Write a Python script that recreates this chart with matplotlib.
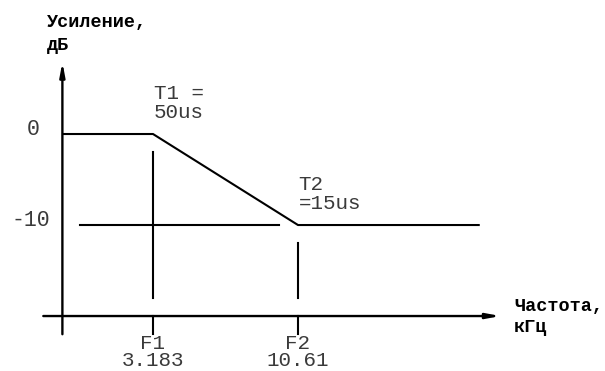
import matplotlib.pyplot as plt

# chart data (schematic pre-emphasis curve)
freq_pts = [1.5, 3.183, 10.61, 48.0]     # кГц
gain_pts = [0, 0, -10, -10]              # дБ
corner_freqs = [3.183, 10.61]
corner_names = ['F1', 'F2']
corner_values = ['3.183', '10.61']
tau_labels = ['T1 =\n50us', 'T2\n=15us']
ytick_vals = [0, -10]
ytick_labels = ['0', '-10']
ref_line_f = [1.74, 9.1]                 # -10 dB guide line
axis_y = -20                             # where the frequency axis sits
axis_f = 1.5                             # where the gain axis sits

mono = ['Liberation Mono', 'DejaVu Sans Mono']
txt = '#3a3a3a'

fig = plt.figure(figsize=(6.05, 3.71), dpi=100)
ax = fig.add_axes([0, 0, 1, 1])
ax.set_xscale('log')
ax.set_xlim(0.8935, 135.8)
ax.set_ylim(-26.04, 14.725)
ax.axis('off')

# axes with arrows
arrow = dict(arrowstyle='-|>,head_length=0.8,head_width=0.15',
             color='black', lw=1.7, shrinkA=0, shrinkB=0)
ax.annotate('', xy=(57, axis_y), xytext=(1.28, axis_y), arrowprops=arrow)
ax.annotate('', xy=(axis_f, 7.9), xytext=(axis_f, -22), arrowprops=arrow)

# response curve
ax.plot(freq_pts, gain_pts, color='black', lw=1.5, solid_capstyle='butt')

# -10 dB guide
ax.plot(ref_line_f, [ytick_vals[1]] * 2, color='black', lw=1.5)

# corner frequency markers
ax.plot([corner_freqs[0]] * 2, [-2, -18], color='black', lw=1.5)
ax.plot([corner_freqs[1]] * 2, [-12, -18], color='black', lw=1.5)
for f in corner_freqs:
    ax.plot([f, f], [axis_y, -22], color='black', lw=1.5)

# y tick labels
for v, lab, xc in zip(ytick_vals, ytick_labels, [33 / 605, 31 / 605]):
    ax.text(xc, v + 0.5, lab, transform=ax.get_yaxis_transform(),
            ha='center', va='center', fontsize=15.5, family=mono, color=txt)

# corner labels
for f, name, val, tau, ty in zip(corner_freqs, corner_names, corner_values,
                                 tau_labels, [3.4, -6.6]):
    ax.text(f, -23.95, name + '\n' + val, ha='center', va='center',
            fontsize=15, family=mono, color=txt, linespacing=0.9)
    ax.text(f * 1.005, ty, tau, ha='left', va='center', fontsize=15,
            family=mono, color=txt, linespacing=1.0)

# axis titles
for xp, yp, lab in [(47, 22, 'Усиление,'), (47, 46, 'дБ'),
                    (514, 306, 'Частота,'), (514, 327, 'кГц')]:
    ax.text(xp / 605, 1 - yp / 371, lab, transform=ax.transAxes,
            ha='left', va='center', fontsize=13.3, family=mono,
            weight='bold')

fig.savefig('out.png', dpi=100)
